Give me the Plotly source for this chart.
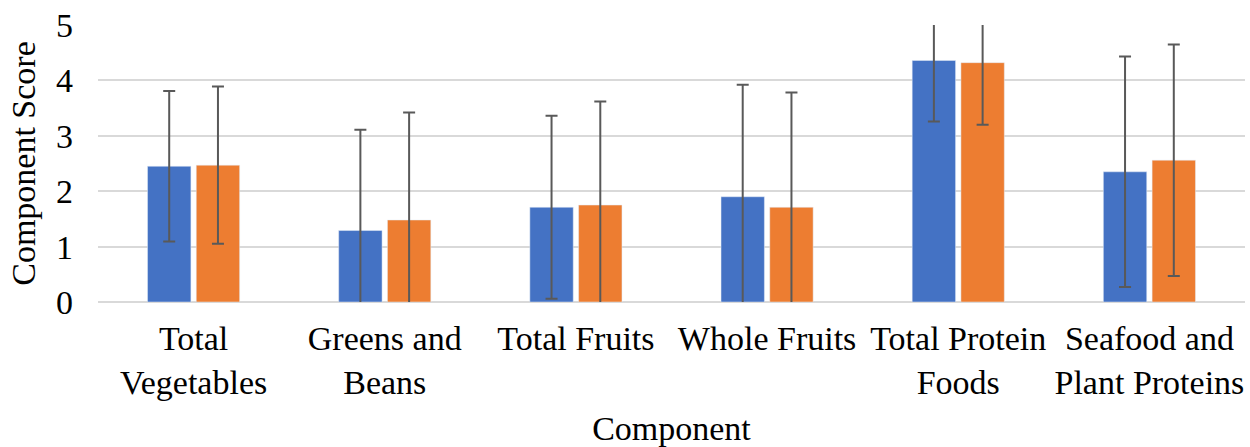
import plotly.graph_objects as go

categories = ["Total<br>Vegetables", "Greens and<br>Beans", "Total Fruits", "Whole Fruits",
              "Total Protein<br>Foods", "Seafood and<br>Plant Proteins"]
series1_values = [2.45, 1.29, 1.71, 1.90, 4.36, 2.35]
series1_sd = [1.36, 1.82, 1.65, 2.02, 1.10, 2.08]
series2_values = [2.47, 1.48, 1.75, 1.71, 4.32, 2.56]
series2_sd = [1.42, 1.94, 1.87, 2.07, 1.12, 2.09]
y_ticks = [0, 1, 2, 3, 4, 5]

FONT = "Liberation Serif, Times New Roman, serif"
FS = 34
err_style = dict(type="data", thickness=2, width=6, color="#595959")

fig = go.Figure()
fig.add_trace(go.Bar(x=categories, y=series1_values, marker_color="#4472C4",
                     error_y=dict(array=series1_sd, **err_style), name="Series 1"))
fig.add_trace(go.Bar(x=categories, y=series2_values, marker_color="#ED7D31",
                     error_y=dict(array=series2_sd, **err_style), name="Series 2"))

fig.update_layout(
    width=1250, height=447,
    margin=dict(l=98, r=5, t=25, b=145, autoexpand=False),
    paper_bgcolor="white", plot_bgcolor="white",
    showlegend=False,
    barmode="group", bargap=0.49, bargroupgap=0.11,
    font=dict(family=FONT, size=FS, color="black"),
)
fig.update_xaxes(
    title=dict(text="Component", font=dict(size=FS), standoff=17),
    tickfont=dict(size=FS), showgrid=False, showline=False, zeroline=False,
    ticks="", ticklabelstandoff=13, automargin=False,
)
fig.update_yaxes(
    title=dict(text="Component Score", font=dict(size=FS), standoff=10),
    range=[0, 5], tickvals=y_ticks, tickfont=dict(size=FS),
    showgrid=True, gridcolor="#D9D9D9", gridwidth=2,
    zeroline=True, zerolinecolor="#D9D9D9", zerolinewidth=2,
    showline=False, ticks="", ticklabelstandoff=24, automargin=False,
)

fig.write_html("out.html", config={"displayModeBar": False},
               post_script="document.body.style.margin='0';")
